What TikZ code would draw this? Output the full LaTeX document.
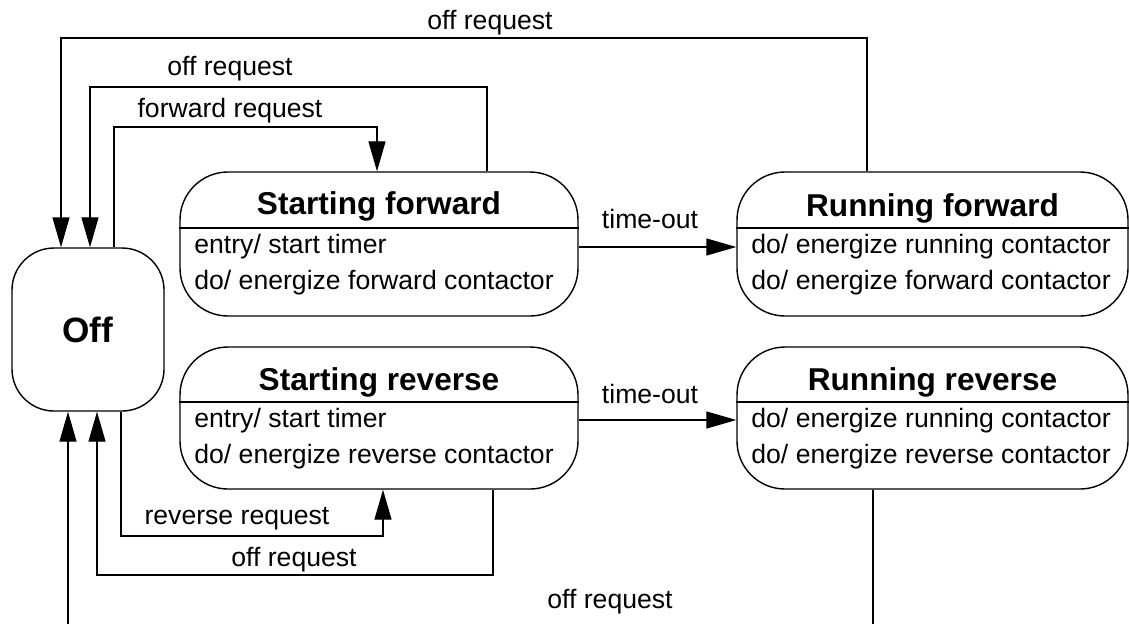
\documentclass[tikz,border=0pt]{standalone}
\usepackage{fontspec}
\setmainfont{Liberation Sans}
\usetikzlibrary{arrows.meta}

\tikzset{
  state/.style={draw, line width=0.7pt, rounded corners=24pt, inner sep=0pt},
  title/.style={font=\fontsize{15.8}{18}\selectfont\bfseries, anchor=base, inner sep=0pt},
  act/.style={font=\fontsize{13.3}{16}\selectfont, anchor=base west, inner sep=0pt},
  lbl/.style={font=\fontsize{13.3}{16}\selectfont, anchor=base, inner sep=0pt},
  wire/.style={line width=0.65pt},
  trans/.style={line width=0.65pt, -{Triangle[length=15pt,width=8.5pt]}},
}

\begin{document}
\begin{tikzpicture}[x=0.5pt,y=-0.5pt]
          \path[use as bounding box] (0,0) rectangle (1129,623);
          \clip (0,0) rectangle (1129,623);

          % states
          \node[state, rounded corners=21pt, minimum width=76pt, minimum height=81.5pt,
                font=\fontsize{17.6}{20}\selectfont\bfseries] (off) at (88,329.5) {Off};

          \node[state, minimum width=199pt, minimum height=72pt] (sf) at (379,244) {};
          \node[title] (sft) at (379,214) {Starting forward};
          \draw[wire] (sf.west |- 0,228) -- (sf.east |- 0,228);
          \node[act] (sf1) at (194,253) {entry/ start timer};
          \node[act] (sf2) at (194,289) {do/ energize forward contactor};

          \node[state, minimum width=195.5pt, minimum height=72pt] (rf) at (932.5,244) {};
          \node[title] (rft) at (932.5,216) {Running forward};
          \draw[wire] (rf.west |- 0,228) -- (rf.east |- 0,228);
          \node[act] (rf1) at (751,253) {do/ energize running contactor};
          \node[act] (rf2) at (751,289) {do/ energize forward contactor};

          \node[state, minimum width=199pt, minimum height=71pt] (sr) at (379,418) {};
          \node[title] (srt) at (379,390) {Starting reverse};
          \draw[wire] (sr.west |- 0,402) -- (sr.east |- 0,402);
          \node[act] (sr1) at (194,427) {entry/ start timer};
          \node[act] (sr2) at (194,463) {do/ energize reverse contactor};

          \node[state, minimum width=195.5pt, minimum height=71pt] (rr) at (932.5,418) {};
          \node[title] (rrt) at (932.5,390) {Running reverse};
          \draw[wire] (rr.west |- 0,402) -- (rr.east |- 0,402);
          \node[act] (rr1) at (751,427) {do/ energize running contactor};
          \node[act] (rr2) at (751,463) {do/ energize reverse contactor};

          % requests above
          \draw[trans] (rf.north -| 867,0) |- (61,38) -- (off.north -| 61,0);
          \node[lbl] (l1) at (490,29) {off request};
          \draw[trans] (sf.north -| 487,0) |- (90,87) -- (off.north -| 90,0);
          \node[lbl] (l2) at (230,75) {off request};
          \draw[trans] (off.north -| 114,0) |- (377,127) -- (sf.north -| 377,0);
          \node[lbl] (l3) at (230,117) {forward request};

          % time-outs
          \draw[trans] (sf.east |- 0,247) -- (rf.west |- 0,247);
          \node[lbl] (l4) at (650,228) {time-out};
          \draw[trans] (sr.east |- 0,420) -- (rr.west |- 0,420);
          \node[lbl] (l5) at (650,403) {time-out};

          % requests below
          \draw[trans] (off.south -| 121,0) |- (383,536) -- (sr.south -| 383,0);
          \node[lbl] (l6) at (237,524) {reverse request};
          \draw[trans] (sr.south -| 493,0) |- (97,575) -- (off.south -| 97,0);
          \node[lbl] (l7) at (294,566) {off request};
          \draw[trans] (rr.south -| 873,0) |- (68,650) -- (off.south -| 68,0);
          \node[lbl] (l8) at (610,608) {off request};
\end{tikzpicture}
\end{document}
